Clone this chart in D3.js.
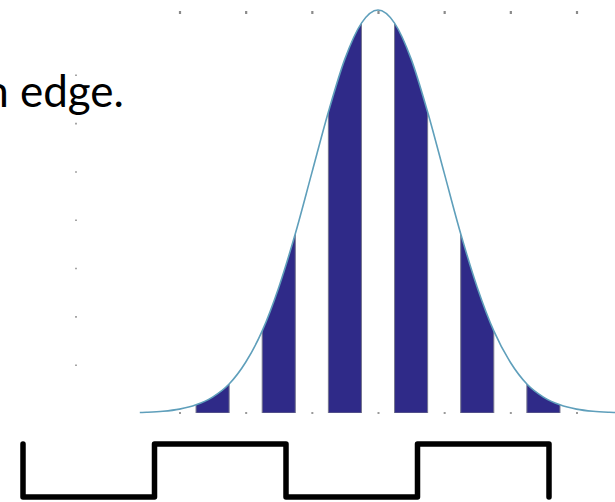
<!DOCTYPE html>
<html>
<head>
<meta charset="utf-8">
<script src="https://cdn.jsdelivr.net/npm/d3@7/dist/d3.min.js"></script>
<style>
  html, body { margin: 0; padding: 0; background: #fff; }
  svg { display: block; }
</style>
</head>
<body>
<svg id="chart" width="615" height="502"></svg>
<script>
// Bell curve sampled along x (in standard-deviation units)
const curveX = [-3.6, -3.5, -3.25, -3, -2.75, -2.5, -2.25, -2, -1.75, -1.5, -1.25, -1, -0.75, -0.5, -0.25,
                0, 0.25, 0.5, 0.75, 1, 1.25, 1.5, 1.75, 2, 2.25, 2.5, 2.75, 3, 3.25, 3.5, 3.6];
const curveY = [0.01, 0.015, 0.035, 0.08, 0.17, 0.33, 0.60, 1.05, 1.70, 2.60, 3.71, 4.97, 6.23, 7.33, 8.07,
                8.34, 8.07, 7.33, 6.23, 4.97, 3.71, 2.60, 1.70, 1.05, 0.60, 0.33, 0.17, 0.08, 0.035, 0.015, 0.01];

// Shaded bands under the curve (start / end in x units)
const bandStart = [-2.75, -1.75, -0.75, 0.25, 1.25, 2.25];
const bandEnd   = [-2.25, -1.25, -0.25, 0.75, 1.75, 2.75];

// Axis tick values (drawn as small dots, no labels)
const xTicks = [-3, -2, -1, 0, 1, 2, 3];
const yTicks = [1, 2, 3, 4, 5, 6, 7];

// Square wave underneath: edge times (half periods) and levels
const waveTimes  = [0, 0, 1, 2, 3, 4];
const waveLevels = [1, 0, 1, 0, 1, 0];

const caption = "n edge.";

const svg = d3.select("#chart");

const plotTop = 12, plotBottom = 413, plotLeft = 76;

const x = d3.scaleLinear().domain([-3, 3]).range([179.5, 576.5]);
const y = d3.scaleLinear().domain([0, 8.3]).range([plotBottom, plotTop]);

const pts = curveX.map((v, i) => [v, curveY[i]]);

// clip region = area beneath the curve
const area = d3.area()
  .x(d => x(d[0]))
  .y0(y(0))
  .y1(d => y(d[1]))
  .curve(d3.curveMonotoneX);

svg.append("defs").append("clipPath")
  .attr("id", "under-curve")
  .append("path")
  .attr("d", area(pts));

// axis tick dots
const dotStyle = (color, w) => g => {
  g.select(".domain").remove();
  g.selectAll(".tick line").attr("stroke", color).attr("stroke-width", w);
  g.selectAll(".tick text").remove();
};

svg.append("g")
  .attr("transform", `translate(0,${plotTop - 1})`)
  .call(d3.axisTop(x).tickValues(xTicks).tickSize(-3).tickFormat(""))
  .call(dotStyle("#8a8a8a", 2.2));

svg.append("g")
  .attr("transform", `translate(0,${plotBottom + 1})`)
  .call(d3.axisBottom(x).tickValues(xTicks).tickSize(-2).tickFormat(""))
  .call(dotStyle("#9a9a9a", 2));

svg.append("g")
  .attr("transform", `translate(${plotLeft - 1},0)`)
  .call(d3.axisLeft(y).tickValues(yTicks).tickSize(-2).tickFormat(""))
  .call(dotStyle("#a5a5a5", 1.6));

// bands clipped to the curve
svg.append("g")
  .attr("clip-path", "url(#under-curve)")
  .selectAll("rect")
  .data(bandStart.map((s, i) => [s, bandEnd[i]]))
  .join("rect")
  .attr("x", d => x(d[0]))
  .attr("width", d => x(d[1]) - x(d[0]))
  .attr("y", y(8.6))
  .attr("height", y(0) - y(8.6))
  .attr("fill", "#2f2a88")
  .attr("stroke", "#75758f")
  .attr("stroke-width", 1);

// curve outline
const line = d3.line()
  .x(d => x(d[0]))
  .y(d => y(d[1]))
  .curve(d3.curveMonotoneX);

svg.append("path")
  .attr("d", line(pts))
  .attr("fill", "none")
  .attr("stroke", "#5f9fbb")
  .attr("stroke-width", 1.6);

// square wave
const xw = d3.scaleLinear().domain([0, 4]).range([23, 549]);
const yw = d3.scaleLinear().domain([0, 1]).range([497, 444]);

const wave = d3.line()
  .x(d => xw(d[0]))
  .y(d => yw(d[1]))
  .curve(d3.curveStepAfter);

svg.append("path")
  .attr("d", wave(waveTimes.map((t, i) => [t, waveLevels[i]])))
  .attr("fill", "none")
  .attr("stroke", "#000")
  .attr("stroke-width", 5.5)
  .attr("stroke-linejoin", "round")
  .attr("stroke-linecap", "round");

// caption fragment
svg.append("text")
  .attr("x", 124)
  .attr("y", 107)
  .attr("text-anchor", "end")
  .attr("font-family", "Lato, 'Open Sans', sans-serif")
  .attr("font-size", 44)
  .attr("fill", "#000")
  .text(caption);
</script>
</body>
</html>
